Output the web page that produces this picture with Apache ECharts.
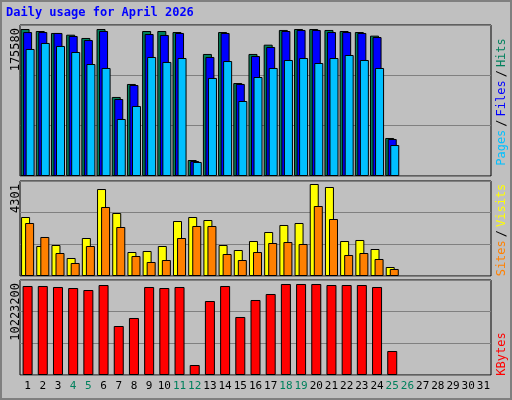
<!DOCTYPE html>
<html><head><meta charset="utf-8">
<script src="https://cdn.jsdelivr.net/npm/echarts@6/dist/echarts.min.js"></script>
<style>html,body{margin:0;padding:0;background:#c0c0c0}#c{width:512px;height:400px;box-sizing:border-box;border:2px solid #808080}</style>
</head><body><div id="c"></div>
<script>
const days = Array.from({length:31},(_,i)=>String(i+1));
const weekendDays = ['4','5','11','12','18','19','25','26'];
const hits  = [170900,168600,166300,164300,160500,170900,91900,107000,168600,168600,167400,18600,141900,167400,108100,141900,152700,169800,170900,170900,169800,168600,167400,163200,44200];
const files = [167400,167400,166300,162800,158100,168600,89500,105800,165100,164000,166300,17400,138400,166300,107000,139500,150000,168600,169800,169800,167400,167400,166300,161600,43000];
const pages = [147700,154700,151200,144200,130200,125600,66300,81400,138400,132600,137200,16300,114000,133700,87200,115100,125600,134900,137200,131400,137200,140700,134900,125600,36000];
const visits= [2671,1358,1403,815,1720,3938,2852,1086,1132,1358,2490,2671,2535,1403,1177,1584,1992,2309,2399,4165,4029,1584,1630,1222,407];
const sites = [2399,1766,1041,589,1358,3124,2218,905,634,724,1720,2264,2264,996,724,1086,1494,1539,1449,3169,2580,951,1041,770,317];
const kbytes= [9578000,9578000,9470000,9362000,9147000,9685000,5273000,6134000,9470000,9362000,9470000,1076000,7963000,9578000,6242000,8071000,8717000,9793000,9793000,9793000,9685000,9685000,9685000,9470000,2583000];
const maxHits = 175580, maxVisits = 4301, maxKB = 10223200;

const mono = '"DejaVu Sans Mono", monospace';
const grids = [
  {left:18,right:19,top:23,height:151},
  {left:18,right:19,top:179,height:95},
  {left:18,right:19,top:278,height:95}
].map(g=>Object.assign(g,{show:true,backgroundColor:'#c0c0c0',borderColor:'#000',borderWidth:1}));
function yAx(i,max){return {gridIndex:i,min:0,max:max,interval:max/3,
  axisLine:{show:false},axisTick:{show:false},
  splitLine:{show:true,lineStyle:{color:'#808080',width:1}},
  axisLabel:{rotate:90,margin:4,align:'right',verticalAlign:'middle',padding:[0,3,0,0],fontFamily:mono,fontSize:12,color:'#000',
    formatter:v=>Math.abs(v-max)<1?String(max):''}};}
function xAx(i,show){return {gridIndex:i,type:'category',data:days,
  axisLine:{show:false},axisTick:{show:false},splitLine:{show:false},
  axisLabel:show?{show:true,interval:0,margin:6,fontFamily:mono,fontSize:11,
    formatter:v=>weekendDays.includes(v)?'{w|'+v+'}':'{n|'+v+'}',
    rich:{w:{color:'#00805c',fontFamily:mono,fontSize:11},n:{color:'#000',fontFamily:mono,fontSize:11}}}:{show:false}};}
const bs={borderColor:'#000',borderWidth:1};
function bar(name,data,xi,color,w,gap){return {type:'bar',name,data,xAxisIndex:xi,yAxisIndex:xi,barWidth:w,barGap:gap,
  itemStyle:Object.assign({color},bs),animation:false};}
const chart = echarts.init(document.getElementById('c'));
chart.setOption({
  backgroundColor:'#c0c0c0',
  grid:grids,
  xAxis:[xAx(0,false),xAx(1,false),xAx(2,true)],
  yAxis:[yAx(0,maxHits),yAx(1,maxVisits),yAx(2,maxKB)],
  series:[
    bar('Hits',hits,0,'#00805c',9,'-72%'),
    bar('Files',files,0,'#0000ff',9,'-72%'),
    bar('Pages',pages,0,'#00c0ff',9,'-72%'),
    bar('Visits',visits,1,'#ffff00',9,'-55%'),
    bar('Sites',sites,1,'#ff8000',9,'-55%'),
    bar('KBytes',kbytes,2,'#ff0000',10,'0%')
  ],
  graphic:[
    {type:'text',left:4,top:5,style:{text:'Daily usage for April 2026',fill:'#0000ff',font:'bold 12px '+mono}},
    {type:'text',x:500,y:100,rotation:Math.PI/2,style:{text:'{p|Pages}{s|/}{f|Files}{s|/}{h|Hits}',align:'center',verticalAlign:'middle',
      rich:{p:{fill:'#00c0ff',font:'12px '+mono},f:{fill:'#0000ff',font:'12px '+mono},h:{fill:'#00805c',font:'12px '+mono},s:{fill:'#000',font:'12px '+mono,padding:[0,3]}}}},
    {type:'text',x:500,y:228,rotation:Math.PI/2,style:{text:'{a|Sites}{s|/}{b|Visits}',align:'center',verticalAlign:'middle',
      rich:{a:{fill:'#ff8000',font:'12px '+mono},b:{fill:'#ffff00',font:'12px '+mono},s:{fill:'#000',font:'12px '+mono,padding:[0,3]}}}},
    {type:'text',x:500,y:352,rotation:Math.PI/2,style:{text:'KBytes',fill:'#ff0000',font:'12px '+mono,align:'center',verticalAlign:'middle'}}
  ]
});
</script></body></html>
